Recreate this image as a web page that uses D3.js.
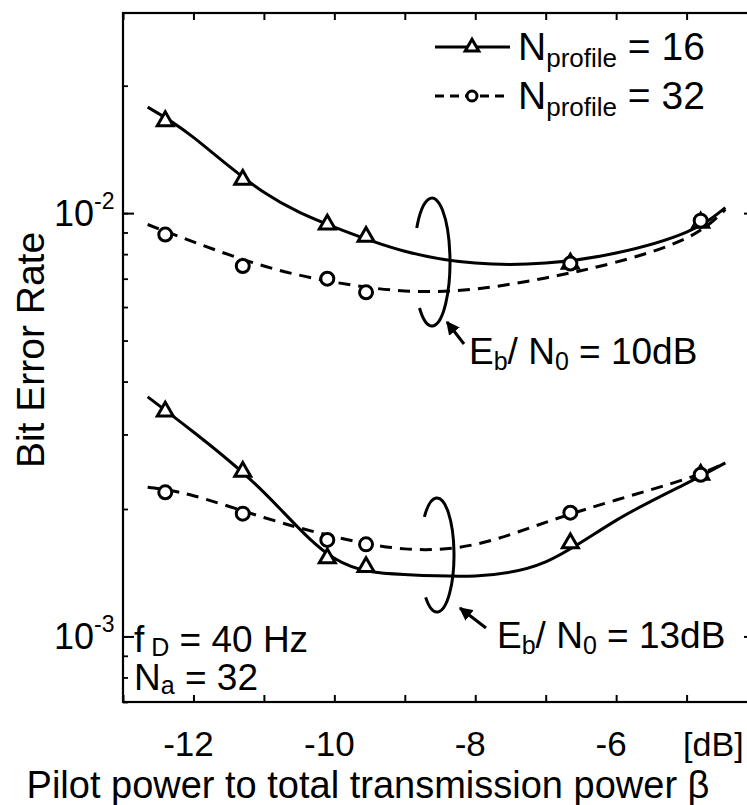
<!DOCTYPE html>
<html>
<head>
<meta charset="utf-8">
<script src="https://cdn.jsdelivr.net/npm/d3@7"></script>
<style>
  body { margin: 0; background: #fff; }
  text { font-family: "Liberation Sans", Arial, Helvetica, sans-serif; fill: #000; }
</style>
</head>
<body>
<svg id="chart" width="747" height="805"></svg>
<script>
// measured points (beta in dB, bit error rate)
const betaDb = [-12.4, -11.3, -10.1, -9.55, -6.65, -4.8]
const ber16at10 = [0.0165, 0.0120, 0.0094, 0.0088, 0.0076, 0.0095]
const ber32at10 = [0.0089, 0.0075, 0.0070, 0.0065, 0.0076, 0.0096]
const ber16at13 = [0.0034, 0.00245, 0.00153, 0.00146, 0.00166, 0.00241]
const ber32at13 = [0.00219, 0.00195, 0.00169, 0.00165, 0.00196, 0.00241]

// fitted curves
const fitDb = [-12.65, -12, -11, -10, -9, -8, -7, -6, -5, -4.45]
const fit16at10 = [0.0178, 0.0151, 0.0112, 0.00927, 0.00813, 0.00762, 0.00762, 0.00805, 0.00902, 0.0103]
const fit32at10 = [0.0094, 0.00855, 0.0075, 0.00687, 0.00655, 0.00662, 0.00703, 0.00766, 0.00873, 0.0102]
const fit16at13 = [0.00368, 0.00304, 0.00219, 0.00153, 0.0014, 0.00139, 0.0015, 0.00188, 0.0023, 0.00257]
const fit32at13 = [0.00225, 0.00215, 0.00191, 0.00172, 0.00161, 0.00165, 0.00186, 0.0021, 0.00236, 0.00257]

const xTicks = [-13, -12, -11, -10, -9, -8, -7, -6, -5]
const xLabels = [-12, -10, -8, -6]

const padLeft = 123, padRight = 750, padTop = 13, padBottom = 702
const font = 39, subFont = 26

const svg = d3.select('#chart')

const x = d3.scaleLinear().domain([-13, -4.1]).range([padLeft, padRight])
const y = d3.scaleLog().domain([7e-4, 0.0297]).range([padBottom, padTop])

// frame
svg.append('rect').attr('x', padLeft).attr('y', padTop).attr('width', padRight - padLeft).attr('height', padBottom - padTop)
    .attr('fill', 'none').attr('stroke', '#000').attr('stroke-width', 2.2)

// x ticks bottom and top, pointing inward
svg.append('g').attr('transform', `translate(0,${padBottom})`)
    .call(d3.axisBottom(x).tickValues(xTicks).tickSizeInner(-7).tickSizeOuter(0).tickFormat(''))
    .call(g => g.select('.domain').remove())
    .selectAll('line').attr('stroke-width', 2)
svg.append('g').attr('transform', `translate(0,${padTop})`)
    .call(d3.axisTop(x).tickValues(xTicks).tickSizeInner(-7).tickSizeOuter(0).tickFormat(''))
    .call(g => g.select('.domain').remove())
    .selectAll('line').attr('stroke-width', 2)

// y ticks, log minor
const yMinor = y.ticks().filter(v => v >= 7e-4 && v <= 0.0297)
const yMajor = [1e-3, 1e-2]
svg.append('g').attr('transform', `translate(${padLeft},0)`)
    .call(d3.axisLeft(y).tickValues(yMinor).tickSize(-5).tickFormat(''))
    .call(g => g.select('.domain').remove())
    .selectAll('line').attr('stroke-width', 1.8)
svg.append('g').attr('transform', `translate(${padLeft},0)`)
    .call(d3.axisLeft(y).tickValues(yMajor).tickSize(-11).tickFormat(''))
    .call(g => g.select('.domain').remove())
    .selectAll('line').attr('stroke-width', 2)
svg.append('g').attr('transform', `translate(${padRight},0)`)
    .call(d3.axisRight(y).tickValues(yMajor).tickSize(-6).tickFormat(''))
    .call(g => g.select('.domain').remove())
    .selectAll('line').attr('stroke-width', 2)

// x tick labels
svg.selectAll('.xlab').data(xLabels).enter().append('text')
    .attr('x', d => x(d) - 5).attr('y', 756)
    .attr('text-anchor', 'middle').attr('font-size', 35)
    .text(d => d)
svg.append('text').attr('x', x(-4.62)).attr('y', 756).attr('text-anchor', 'middle')
    .attr('font-size', 34).text('[dB]')

// y tick labels
yMajor.forEach(v => {
    const t = svg.append('text').attr('x', 54).attr('y', y(v) + 13).attr('font-size', 36)
    t.append('tspan').text('10')
    t.append('tspan').attr('font-size', 23).attr('dy', -17).text(v === 1e-2 ? '-2' : '-3')
})

// axis titles
svg.append('text').attr('transform', 'translate(44,350) rotate(-90)')
    .attr('text-anchor', 'middle').attr('font-size', font).text('Bit Error Rate')
svg.append('text').attr('x', 368).attr('y', 798).attr('text-anchor', 'middle')
    .attr('font-size', 38).text('Pilot power to total transmission power  β')

// curves
const line = d3.line().x(d => x(d[0])).y(d => y(d[1])).curve(d3.curveNatural)
const curves = [
    { v: fit16at10, dash: null },
    { v: fit32at10, dash: '12,8' },
    { v: fit16at13, dash: null },
    { v: fit32at13, dash: '12,8' }
]
curves.forEach(c => {
    svg.append('path').datum(d3.zip(fitDb, c.v)).attr('d', line)
        .attr('fill', 'none').attr('stroke', '#000').attr('stroke-width', 3)
        .attr('stroke-dasharray', c.dash)
})

// markers
const tri = d3.symbol().type(d3.symbolTriangle).size(110)
const drawTri = (vals) => {
    svg.append('g').selectAll('path').data(d3.zip(betaDb, vals)).enter().append('path')
        .attr('d', tri).attr('transform', d => `translate(${x(d[0])},${y(d[1])})`)
        .attr('fill', '#fff').attr('stroke', '#000').attr('stroke-width', 3)
}
const drawCirc = (vals) => {
    svg.append('g').selectAll('circle').data(d3.zip(betaDb, vals)).enter().append('circle')
        .attr('cx', d => x(d[0])).attr('cy', d => y(d[1])).attr('r', 6.5)
        .attr('fill', '#fff').attr('stroke', '#000').attr('stroke-width', 3)
}
drawTri(ber16at10)
drawCirc(ber32at10)
drawTri(ber16at13)
drawCirc(ber32at13)

// legend
const legend = [
    { yPos: 47, dash: null, n: '16', sym: 'tri' },
    { yPos: 96, dash: '9,6', n: '32', sym: 'circ' }
]
legend.forEach(l => {
    svg.append('line').attr('x1', 435).attr('x2', 510).attr('y1', l.yPos).attr('y2', l.yPos)
        .attr('stroke', '#000').attr('stroke-width', 3).attr('stroke-dasharray', l.dash)
    if (l.sym === 'tri') {
        svg.append('path').attr('d', d3.symbol().type(d3.symbolTriangle).size(80))
            .attr('transform', `translate(472,${l.yPos})`)
            .attr('fill', '#fff').attr('stroke', '#000').attr('stroke-width', 3)
    } else {
        svg.append('circle').attr('cx', 472).attr('cy', l.yPos).attr('r', 5)
            .attr('fill', '#fff').attr('stroke', '#000').attr('stroke-width', 3)
    }
    const t = svg.append('text').attr('x', 518).attr('y', l.yPos + 13).attr('font-size', font)
    t.append('tspan').text('N')
    t.append('tspan').attr('font-size', subFont).attr('dy', 7).text('profile')
    t.append('tspan').attr('dy', -7).text(' = ' + l.n)
})

// rings around each pair of curves
const ring = (cx, cy, rx, ry, tStart, tEnd) => {
    const p = t => [cx + rx * Math.cos(t * Math.PI / 180), cy + ry * Math.sin(t * Math.PI / 180)]
    const a = p(tStart), b = p(tEnd)
    svg.append('path').attr('d', `M${a[0]},${a[1]} A${rx},${ry} 0 1 1 ${b[0]},${b[1]}`)
        .attr('fill', 'none').attr('stroke', '#000').attr('stroke-width', 3)
}
ring(432, 262, 18, 64, 212, 134)
ring(437, 555, 17, 57, 222, 132)

// arrows
svg.append('defs').append('marker').attr('id', 'arr').attr('viewBox', '0 0 10 10')
    .attr('refX', 9).attr('refY', 5).attr('markerWidth', 4.5).attr('markerHeight', 4.5).attr('orient', 'auto')
    .append('path').attr('d', 'M0,0 L10,5 L0,10 z').attr('fill', '#000')
svg.append('line').attr('x1', 464).attr('y1', 344).attr('x2', 447).attr('y2', 322)
    .attr('stroke', '#000').attr('stroke-width', 3).attr('marker-end', 'url(#arr)')
svg.append('line').attr('x1', 486).attr('y1', 628).attr('x2', 460).attr('y2', 608)
    .attr('stroke', '#000').attr('stroke-width', 3).attr('marker-end', 'url(#arr)')

// annotation labels
const ebLabel = (xPos, yPos, val) => {
    const t = svg.append('text').attr('x', xPos).attr('y', yPos).attr('font-size', 37)
    t.append('tspan').text('E')
    t.append('tspan').attr('font-size', 25).attr('dy', 6).text('b')
    t.append('tspan').attr('dy', -6).text('/ N')
    t.append('tspan').attr('font-size', 25).attr('dy', 6).text('0')
    t.append('tspan').attr('dy', -6).text(' = ' + val)
}
ebLabel(469, 364, '10dB')
ebLabel(497, 648, '13dB')

// operating conditions, two lines in one text
const cond = svg.append('text').attr('x', 134).attr('y', 652).attr('font-size', 37)
cond.append('tspan').text('f')
cond.append('tspan').attr('font-size', 25).attr('dy', 4).text(' D')
cond.append('tspan').attr('dy', -4).text(' = 40 Hz')
cond.append('tspan').attr('x', 134).attr('dy', 38).text('N')
cond.append('tspan').attr('font-size', 25).attr('dy', 4).text('a')
cond.append('tspan').attr('dy', -4).text(' = 32')
</script>
</body>
</html>
